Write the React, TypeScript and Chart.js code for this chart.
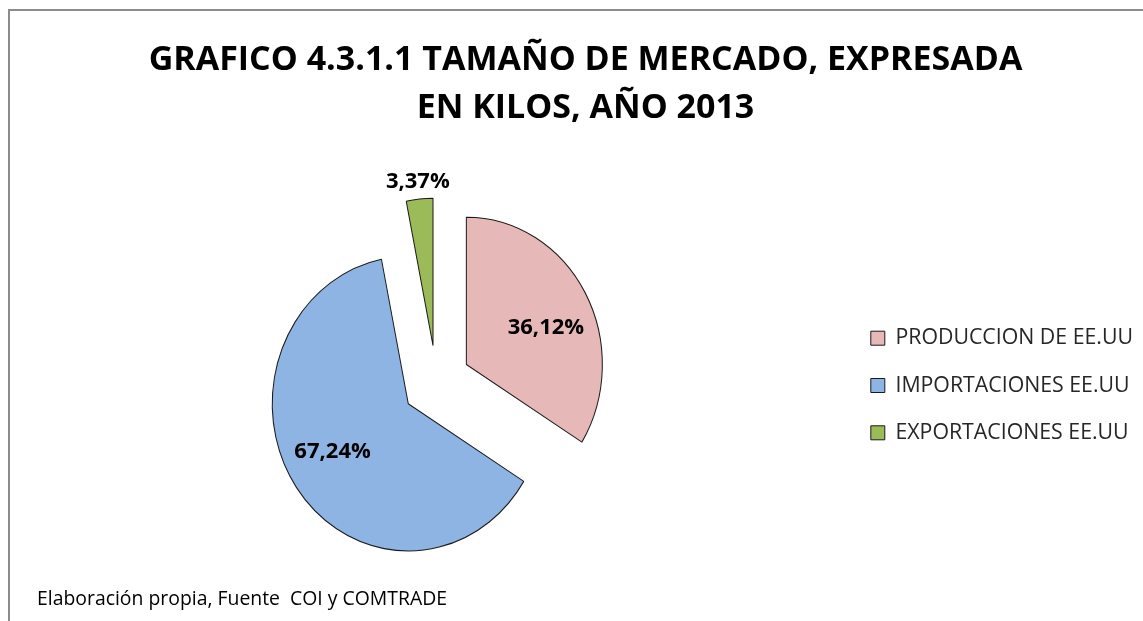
import React, { useEffect, useRef } from 'react';
import { Chart, registerables } from 'chart.js';

Chart.register(...registerables);

// ---- data ----
const categories = ['PRODUCCION DE EE.UU', 'IMPORTACIONES EE.UU', 'EXPORTACIONES EE.UU'];
const values = [36.12, 67.24, 3.37];
const valueLabels = ['36,12%', '67,24%', '3,37%'];
const sliceColors = ['#E6B9B8', '#8EB4E3', '#9BBB59'];
const titleLines = ['GRAFICO 4.3.1.1 TAMAÑO DE MERCADO, EXPRESADA', 'EN KILOS, AÑO 2013'];
const footnote = 'Elaboración propia, Fuente  COI y COMTRADE';

const FONT = "'Open Sans', 'Noto Sans', sans-serif";
const EXPLODE = 0.252; // fraction of radius each slice is pulled out
const Y_SCALE = 1.083; // reference pie is slightly taller than wide
const LABEL_TURN = 0.09; // inner labels sit slightly clockwise of slice middle

const pieLook = {
  id: 'pieLook',
  afterDatasetUpdate(chart: any, args: any) {
    const meta = args.meta;
    meta.data.forEach((arc: any) => {
      const mid = (arc.startAngle + arc.endAngle) / 2;
      const d = arc.outerRadius * EXPLODE;
      arc.x += Math.cos(mid) * d;
      arc.y += Math.sin(mid) * d;
    });
  },
  beforeDatasetsDraw(chart: any) {
    const { ctx, chartArea } = chart;
    const cx = (chartArea.left + chartArea.right) / 2;
    const cy = (chartArea.top + chartArea.bottom) / 2;
    ctx.save();
    ctx.translate(cx, cy);
    ctx.scale(1, Y_SCALE);
    ctx.translate(-cx, -cy);
  },
  afterDatasetsDraw(chart: any) {
    const { ctx, chartArea } = chart;
    ctx.restore();
    const cy = (chartArea.top + chartArea.bottom) / 2;
    const meta = chart.getDatasetMeta(0);
    const total = values.reduce((a, b) => a + b, 0);
    ctx.save();
    ctx.font = `bold 22px ${FONT}`;
    ctx.fillStyle = '#000000';
    ctx.textAlign = 'center';
    ctx.textBaseline = 'middle';
    meta.data.forEach((arc: any, i: number) => {
      const mid = (arc.startAngle + arc.endAngle) / 2;
      const outside = values[i] / total < 0.05;
      const f = outside ? 1.13 : 0.64;
      const ang = outside ? mid : mid + LABEL_TURN;
      const px = arc.x + Math.cos(ang) * arc.outerRadius * f;
      const py = cy + (arc.y - cy + Math.sin(ang) * arc.outerRadius * f) * Y_SCALE + 1.5;
      ctx.fillText(valueLabels[i], px, py);
    });
    ctx.restore();
  },
  afterDraw(chart: any) {
    const { ctx } = chart;
    ctx.save();
    ctx.font = `19.4px ${FONT}`;
    ctx.fillStyle = '#000000';
    ctx.textAlign = 'left';
    ctx.textBaseline = 'alphabetic';
    ctx.fillText(footnote, 37, 605);
    ctx.restore();
  },
};

export default function App() {
  const canvasRef = useRef<HTMLCanvasElement | null>(null);

  useEffect(() => {
    if (!canvasRef.current) return;
    const chart = new Chart(canvasRef.current, {
      type: 'pie',
      data: {
        labels: categories,
        datasets: [
          {
            data: values,
            backgroundColor: sliceColors,
            borderColor: '#1a1a1a',
            borderWidth: 1,
          },
        ],
      },
      options: {
        responsive: false,
        animation: false,
        radius: 136,
        layout: { padding: { left: 28, right: 0, top: 0, bottom: 16 } },
        plugins: {
          title: {
            display: true,
            text: titleLines,
            color: '#000000',
            font: { family: FONT, size: 34, weight: 'bold', lineHeight: 48 / 34 },
            padding: { top: 36, bottom: 28 },
          },
          legend: {
            display: true,
            position: 'right',
            fullSize: false,
            title: { display: true, text: '', padding: { top: 5, bottom: 0 }, font: { size: 1, lineHeight: 1 } },
            labels: {
              boxWidth: 14,
              boxHeight: 14,
              padding: 26,
              color: '#262626',
              font: { family: FONT, size: 21.3 },
            },
          },
          tooltip: { enabled: false },
        },
      } as any,
      plugins: [pieLook],
    });
    return () => chart.destroy();
  }, []);

  return (
    <div
      style={{
        position: 'absolute',
        left: 0,
        top: 0,
        width: 1143,
        height: 621,
        overflow: 'hidden',
        background: '#ffffff',
      }}
    >
      <canvas ref={canvasRef} width={1143} height={621} style={{ width: 1143, height: 621, display: 'block' }} />
      <div
        style={{
          position: 'absolute',
          left: 8,
          top: 9,
          width: 1200,
          height: 700,
          borderLeft: '2px solid #8c8c8c',
          borderTop: '2px solid #8c8c8c',
          pointerEvents: 'none',
        }}
      />
    </div>
  );
}
